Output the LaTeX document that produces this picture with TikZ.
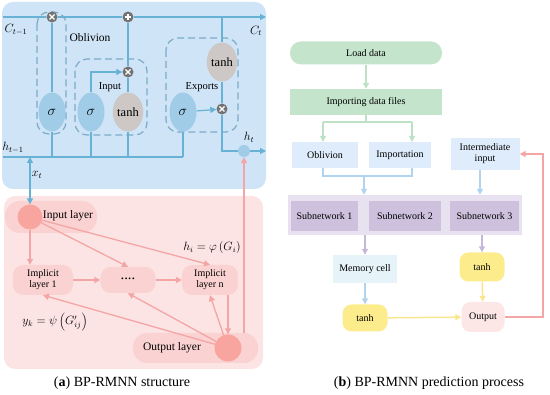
\documentclass[tikz,border=0pt]{standalone}
\usepackage{fontspec}
\setmainfont{Liberation Serif}
\usetikzlibrary{arrows.meta,shapes.geometric}
\definecolor{bluepanel}{RGB}{207,228,247}
\definecolor{blueline}{RGB}{104,178,214}
\definecolor{sigfill}{RGB}{160,204,232}
\definecolor{gatedash}{RGB}{125,170,198}
\definecolor{tanhfill}{RGB}{205,200,198}
\definecolor{multfill}{RGB}{115,115,115}
\definecolor{pinkpanel}{RGB}{253,228,228}
\definecolor{pinkbox}{RGB}{250,210,210}
\definecolor{pinkcirc}{RGB}{248,165,160}
\definecolor{pinkline}{RGB}{244,165,165}
\definecolor{greenfill}{RGB}{196,228,204}
\definecolor{greenline}{RGB}{188,225,196}
\definecolor{lbluefill}{RGB}{222,236,251}
\definecolor{lblueline}{RGB}{176,212,240}
\definecolor{lavpanel}{RGB}{231,225,240}
\definecolor{lavbox}{RGB}{205,193,222}
\definecolor{lavline}{RGB}{196,184,216}
\definecolor{memfill}{RGB}{230,243,249}
\definecolor{yellowfill}{RGB}{252,236,140}
\definecolor{yellowline}{RGB}{250,230,140}
\definecolor{outfill}{RGB}{252,230,230}
\pgfdeclarelayer{bg}
\pgfsetlayers{bg,main}
\tikzset{
  tip/.style={-{Triangle[length=6pt,width=6pt]}},
  tips/.style={{Triangle[length=6pt,width=6pt]}-{Triangle[length=6pt,width=6pt]}},
  bl/.style={draw=blueline, line width=1.2pt},
  gatebox/.style={draw=gatedash, line width=1.2pt, dash pattern=on 7pt off 4pt, rounded corners=12pt},
  sig/.style={ellipse, fill=sigfill, minimum width=27pt, minimum height=39pt, inner sep=0pt, font=\fontsize{14}{14}\selectfont},
  tanhell/.style={ellipse, fill=tanhfill, minimum width=27pt, minimum height=39pt, inner sep=0pt, font=\fontsize{12.5}{13}\selectfont},
  opc/.style={circle, fill=multfill, minimum size=11pt, inner sep=0pt},
  mult/.style={opc, path picture={\draw[white, line width=1.1pt]
      ([shift={(-2.5pt,-2.5pt)}]path picture bounding box.center) -- ([shift={(2.5pt,2.5pt)}]path picture bounding box.center)
      ([shift={(-2.5pt,2.5pt)}]path picture bounding box.center) -- ([shift={(2.5pt,-2.5pt)}]path picture bounding box.center);}},
  plus/.style={opc, path picture={\draw[white, line width=1.1pt]
      ([shift={(-3.2pt,0pt)}]path picture bounding box.center) -- ([shift={(3.2pt,0pt)}]path picture bounding box.center)
      ([shift={(0pt,-3.2pt)}]path picture bounding box.center) -- ([shift={(0pt,3.2pt)}]path picture bounding box.center);}},
  lbl/.style={inner sep=0pt, font=\fontsize{11.5}{12}\selectfont},
  pbox/.style={fill=pinkbox, rounded corners=10pt, minimum width=60pt, minimum height=30pt, inner sep=0pt, align=center, font=\fontsize{10}{11}\selectfont},
  pcirc/.style={circle, fill=pinkcirc, minimum size=25pt, inner sep=0pt},
  rtext/.style={inner sep=0pt, font=\fontsize{10}{11}\selectfont, align=center},
  ga/.style={draw=greenline, line width=1.5pt},
  bla/.style={draw=lblueline, line width=1.5pt},
  la/.style={draw=lavline, line width=1.5pt},
  ya/.style={draw=yellowline, line width=1.5pt},
  pa/.style={draw=pinkline, line width=1.3pt},
  caption/.style={inner sep=0pt, font=\fontsize{14}{15}\selectfont},
}
\begin{document}
\begin{tikzpicture}[x=1pt,y=-1pt]
\useasboundingbox (0,0) rectangle (550,395);
% ================= panel (a) =================
\begin{pgfonlayer}{bg}
\fill[bluepanel, rounded corners=11pt] (2,2) rectangle (266,189);
\fill[pinkpanel, rounded corners=11pt] (4,196) rectangle (263,369);
\end{pgfonlayer}
% gates
\draw[gatebox] (37,12) rectangle (66,134);
\draw[gatebox] (75,59) rectangle (147,135);
\draw[gatebox] (166,38) rectangle (238,132);
% operators and activations
\node[mult] (x1) at (52,17) {};
\node[plus] (p1) at (128,17) {};
\node[mult] (x2) at (128,72) {};
\node[mult] (x3) at (222,109) {};
\node[sig] (s1) at (52,112) {$\sigma$};
\node[sig] (s2) at (91,112) {$\sigma$};
\node[tanhell] (t1) at (128,112) {tanh};
\node[sig] (s3) at (183,112) {$\sigma$};
\node[tanhell] (t2) at (222,62) {tanh};
\node[circle, fill=sigfill, minimum size=12pt, inner sep=0pt] (ht) at (244,151) {};
\coordinate (c0) at (3,17);
\coordinate (c1) at (266,17);
\coordinate (e0) at (222,17);
\coordinate (h0) at (3,157);
\coordinate (j0) at (30,157);
\coordinate (j1) at (52,157);
\coordinate (j2) at (91,157);
\coordinate (j3) at (128,157);
\coordinate (j4) at (183,157);
\coordinate (hout) at (266,151);
% connectors
\draw[bl, tip] (c0) -- (x1) -- (p1) -- (c1);
\draw[bl] (h0) -- (j4);
\draw[bl] (x1) -- (s1) -- (j1);
\draw[bl] (s2) -- (j2);
\draw[bl] (t1) -- (j3);
\draw[bl] (s3) -- (j4);
\draw[bl, tip] (s2.north) |- (x2);
\draw[bl] (t1) -- (x2) -- (p1);
\draw[bl] (e0) -- (t2) -- (x3);
\draw[bl] (x3) |- (ht);
\draw[bl, tip] (s3) -- (x3);
\draw[bl, tip] (ht) -- (hout);
% labels
\node[lbl] (lc0) at (16,30) {$C_{t-1}$};
\node[lbl] (lc1) at (256,31) {$C_t$};
\node[lbl] (lob) at (90,38) {Oblivion};
\node[inner sep=0pt, font=\fontsize{10.5}{11}\selectfont] (lin) at (110,87) {Input};
\node[inner sep=0pt, font=\fontsize{10.5}{11}\selectfont] (lex) at (202,87) {Exports};
\node[lbl] (lh0) at (13,148) {$h_{t-1}$};
\node[lbl] (lht) at (249,137) {$h_t$};
\node[lbl] (lxt) at (37,175) {$x_t$};
% pink layers
\fill[pinkbox, rounded corners=15pt] (5,201) rectangle (97,233);
\node[fill=pinkbox, rounded corners=14pt, minimum width=125pt, minimum height=30pt, inner sep=0pt] (olbox) at (195.5,348) {};
\node[pcirc] (inc) at (30,217) {};
\node[lbl] (linl) at (68,216) {Input layer};
\node[pcirc, minimum size=27pt] (outc) at (228,348) {};
\node[lbl] (lol) at (172,348) {Output layer};
\node[pbox] (im1) at (43,280) {Implicit\\layer 1};
\node[pbox, minimum width=55pt, minimum height=26pt, font=\bfseries\fontsize{11}{11}\selectfont] (dots) at (128,280) {····};
\node[pbox, minimum width=56pt] (imn) at (210,280) {Implicit\\layer n};
\node[lbl] (lhi) at (212,248) {$h_i=\varphi\left(G_i\right)$};
\node[lbl] (lyk) at (55,322) {$y_k=\psi\left(G'_{ij}\right)$};
% pink connectors
\draw[pa, tip] (inc) -- (inc |- im1.north);
\draw[pa, tip] (inc) -- (dots.north);
\draw[pa, tip] (inc) -- (imn.north);
\draw[pa, tip] (im1) -- (dots);
\draw[pa, tip] (dots) -- (imn);
\draw[pa, tip] (outc |- imn.south) -- (outc);
\draw[pa, tip] (outc) -- (imn.south);
\draw[pa, tip] (outc) -- (dots.south);
\draw[pa, tip] (outc) -- (im1.south);
\draw[pa, tip] (ht |- olbox.north) -- (ht);
\draw[bl, tips] (j0) -- (inc);
% ================= panel (b) =================
\node[fill=greenfill, rounded corners=11pt, minimum width=152pt, minimum height=23pt, inner sep=0pt, font=\fontsize{10}{11}\selectfont] (load) at (366,53) {Load data};
\node[fill=greenfill, minimum width=152pt, minimum height=26pt, inner sep=0pt, font=\fontsize{10}{11}\selectfont] (imp) at (366,102) {Importing data files};
\node[rtext, fill=lbluefill, minimum width=66pt, minimum height=26pt] (obl) at (325,155) {Oblivion};
\node[rtext, fill=lbluefill, minimum width=62pt, minimum height=26pt] (impn) at (400,155) {Importation};
\node[rtext, fill=lbluefill, minimum width=69pt, minimum height=32pt] (inter) at (485,154) {Intermediate\\input};
\node[fill=lavpanel, minimum width=234pt, minimum height=40pt, inner sep=0pt] (subp) at (405,215) {};
\node[rtext, fill=lavbox, minimum width=67pt, minimum height=30pt] (sub1) at (324.5,216) {Subnetwork 1};
\node[rtext, fill=lavbox, minimum width=72pt, minimum height=30pt] (sub2) at (405,216) {Subnetwork 2};
\node[rtext, fill=lavbox, minimum width=69pt, minimum height=30pt] (sub3) at (484.5,216) {Subnetwork 3};
\node[rtext, fill=memfill, minimum width=64pt, minimum height=28pt] (mem) at (365,269) {Memory cell};
\node[rtext, fill=yellowfill, rounded corners=9pt, minimum width=45pt, minimum height=27pt] (tanhL) at (365,318) {tanh};
\node[rtext, fill=yellowfill, rounded corners=9pt, minimum width=45pt, minimum height=29pt] (tanhR) at (482,267) {tanh};
\node[rtext, fill=outfill, rounded corners=9pt, minimum width=43pt, minimum height=30pt] (out) at (483,317) {Output};
\coordinate (brL) at (323,122);
\coordinate (brR) at (412,122);
\coordinate (mL) at (323,176);
\coordinate (mR) at (412,176);
\coordinate (mC) at (364,176);
\coordinate (lp) at (543,317);
\draw[ga, tip] (load) -- (imp);
\draw[ga] (imp.south) -- (imp.south |- brL);
\draw[ga] (brL) -- (brR);
\draw[ga, tip] (brL) -- (brL |- obl.north);
\draw[ga, tip] (brR) -- (brR |- impn.north);
\draw[bla] (brL |- obl.south) -- (mL) -- (mR) -- (brR |- impn.south);
\draw[bla, tip] (mC) -- (mC |- subp.north);
\draw[bla, tip] ([xshift=-5pt]inter.south) -- ([xshift=-5pt]inter.south |- subp.north);
\draw[la, tip] (subp.south -| mem) -- (mem);
\draw[la, tip] (subp.south -| tanhR) -- (tanhR);
\draw[bla, tip] (mem) -- (tanhL);
\draw[ya, tip] (tanhR) -- (out);
\draw[ya, tip] (tanhL) -- (out);
\draw[pa, tip] (out) -- (lp) |- (inter);
% captions
\node[caption] (capa) at (122,383) {(\textbf{a}) BP-RMNN structure};
\node[caption] (capb) at (429,383) {(\textbf{b}) BP-RMNN prediction process};
\end{tikzpicture}
\end{document}
